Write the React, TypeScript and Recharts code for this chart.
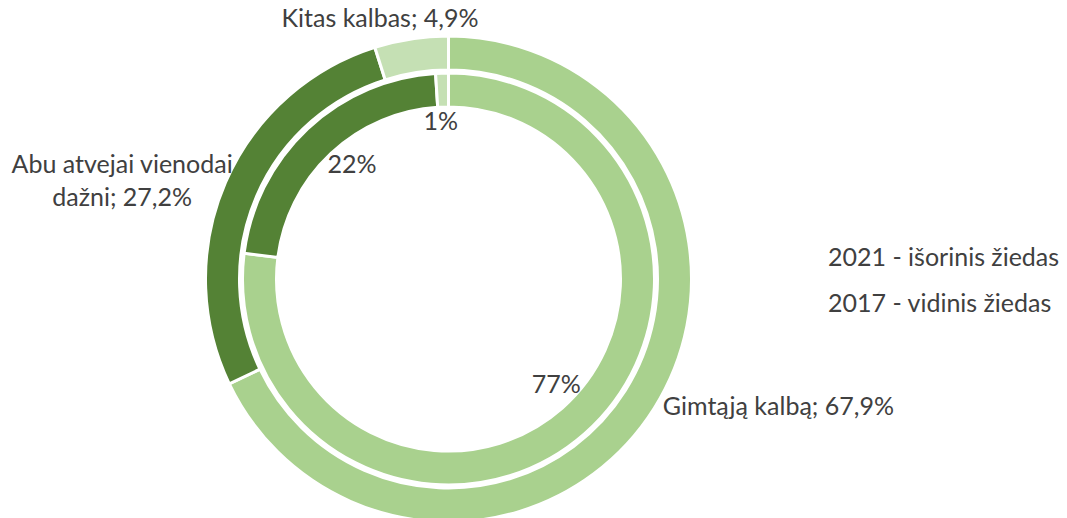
import { PieChart, Pie, Cell } from "recharts";

// 2021 – outer ring
const outerNames = ["Gimtąją kalbą", "Abu atvejai vienodai dažni", "Kitas kalbas"];
const outerValues = [67.9, 27.2, 4.9];

// 2017 – inner ring
const innerNames = ["Gimtąją kalbą", "Abu atvejai vienodai dažni", "Kitas kalbas"];
const innerValues = [77, 22, 1];

const legendLines = ["2021 - išorinis žiedas", "2017 - vidinis žiedas"];

const colors = ["#A9D18E", "#548235", "#C5E0B4"];

const outerData = outerNames.map((name, i) => ({ name, value: outerValues[i] }));
const innerData = innerNames.map((name, i) => ({ name, value: innerValues[i] }));

const RAD = Math.PI / 180;
const FONT = "Lato, Carlito, Calibri, sans-serif";
const TXT = "#404040";
const FS = 25;

const fmt = (v: number) => v.toFixed(1).replace(".", ",") + "%";

// small nudges so the labels sit where Excel put them
const outerNudge = [
  [2, -8],
  [-96, -16],
  [-30, -14],
];
const innerNudge = [
  [6, -12],
  [9, -4],
  [-3, -5],
];

function outerLabel(props: any) {
  const { cx, cy, midAngle, outerRadius, index, name, value } = props;
  const r = outerRadius + 8;
  const x = cx + r * Math.cos(-midAngle * RAD) + outerNudge[index][0];
  const y = cy + r * Math.sin(-midAngle * RAD) + outerNudge[index][1];
  if (index === 1) {
    // wrapped label
    const words = name.split(" ");
    return (
      <text x={x} y={y} textAnchor="middle" dominantBaseline="central" fill={TXT} fontSize={FS} fontFamily={FONT}>
        <tspan x={x}>{words.slice(0, 3).join(" ")}</tspan>
        <tspan x={x} dy={33}>{`${words.slice(3).join(" ")}; ${fmt(value)}`}</tspan>
      </text>
    );
  }
  return (
    <text
      x={x}
      y={y}
      textAnchor={index === 0 ? "start" : "middle"}
      dominantBaseline="central"
      fill={TXT}
      fontSize={FS}
      fontFamily={FONT}
    >
      {`${name}; ${fmt(value)}`}
    </text>
  );
}

function innerLabel(props: any) {
  const { cx, cy, midAngle, value, index } = props;
  const r = 154;
  const x = cx + r * Math.cos(-midAngle * RAD) + innerNudge[index][0];
  const y = cy + r * Math.sin(-midAngle * RAD) + innerNudge[index][1];
  return (
    <text x={x} y={y} textAnchor="middle" dominantBaseline="central" fill={TXT} fontSize={FS} fontFamily={FONT}>
      {`${value}%`}
    </text>
  );
}

export default function App() {
  return (
    <div style={{ position: "absolute", left: 0, top: 0, width: 1067, height: 518, background: "#fff", overflow: "hidden" }}>
      <PieChart width={1067} height={518} margin={{ top: 0, right: 0, bottom: 0, left: 0 }}>
        <Pie
          data={outerData}
          dataKey="value"
          cx={448.5}
          cy={279}
          innerRadius={209}
          outerRadius={243}
          startAngle={90}
          endAngle={-270}
          stroke="#fff"
          strokeWidth={3}
          label={outerLabel}
          labelLine={false}
          isAnimationActive={false}
        >
          {outerData.map((d, i) => (
            <Cell key={d.name} fill={colors[i]} />
          ))}
        </Pie>
        <Pie
          data={innerData}
          dataKey="value"
          cx={448.5}
          cy={279}
          innerRadius={172}
          outerRadius={206}
          startAngle={90}
          endAngle={-270}
          stroke="#fff"
          strokeWidth={3}
          label={innerLabel}
          labelLine={false}
          isAnimationActive={false}
        >
          {innerData.map((d, i) => (
            <Cell key={d.name} fill={colors[i]} />
          ))}
        </Pie>
      </PieChart>
      <div style={{ position: "absolute", left: 828, top: 233, fontFamily: FONT, fontSize: FS, color: TXT, lineHeight: "46px", whiteSpace: "nowrap" }}>
        {legendLines.map((t) => (
          <div key={t}>{t}</div>
        ))}
      </div>
    </div>
  );
}
